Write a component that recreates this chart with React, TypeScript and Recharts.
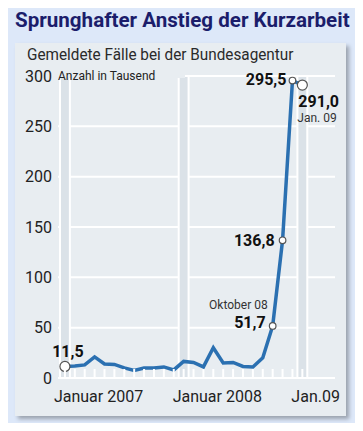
import { LineChart, Line, XAxis, YAxis, CartesianGrid, ReferenceArea, LabelList } from "recharts"

const months = [
  "Jan 07", "Feb 07", "Mär 07", "Apr 07", "Mai 07", "Jun 07", "Jul 07", "Aug 07", "Sep 07", "Okt 07", "Nov 07", "Dez 07",
  "Jan 08", "Feb 08", "Mär 08", "Apr 08", "Mai 08", "Jun 08", "Jul 08", "Aug 08", "Sep 08", "Okt 08", "Nov 08", "Dez 08",
  "Jan 09",
]
const cases = [
  11.5, 12, 13, 21, 14, 13.5, 10, 7.5, 10, 10, 11, 8,
  16.5, 15.5, 11, 30, 15, 15.5, 11.5, 11, 20, 51.7, 136.8, 295.5,
  291.0,
]
const yTicks = [0, 50, 100, 150, 200, 250, 300]
const yearLabels: Record<number, string> = { 0: "Januar 2007", 12: "Januar 2008", 24: "Jan.09" }
const valueLabels: Record<number, string> = { 0: "11,5", 21: "51,7", 22: "136,8", 23: "295,5", 24: "291,0" }
const noteLabels: Record<number, string> = { 21: "Oktober 08", 24: "Jan. 09" }

const data = cases.map((v, i) => ({ i, month: months[i], value: v }))
const janIdx = Object.keys(yearLabels).map(Number)

const font = "Roboto, 'Noto Sans', sans-serif"
const cardBg = "#e8edf1"

function MonthTick(props: any) {
  const { x, y, payload } = props
  const label = yearLabels[payload.value]
  return (
    <g>
      <line x1={x} x2={x} y1={y - 1} y2={y - 9} stroke="#fff" strokeWidth={2} />
      {label && (
        <text x={x - 11} y={y + 24} textAnchor="start" fontSize={16} fill="#222" fontFamily={font}>
          {label}
        </text>
      )}
    </g>
  )
}

function Marker(props: any) {
  const { cx, cy, index } = props
  if (valueLabels[index] === undefined) return <g key={index} />
  const r = index === 0 || index === 24 ? 5 : 3.3
  return <circle key={index} cx={cx} cy={cy} r={r} fill="#fff" stroke="#555" strokeWidth={1.2} />
}

function PointLabel(props: any) {
  const { x, y, index } = props
  const text = valueLabels[index]
  if (!text) return null
  let dx = -7, dy = 4, anchor = "end"
  let ndx = -5, ndy = -17, nAnchor = "end"
  if (index === 0) { dx = 3; dy = -9; anchor = "middle" }
  if (index === 21) { dx = -7; dy = 2 }
  if (index === 22) { dx = -8; dy = 6 }
  if (index === 23) { dx = -6; dy = 4 }
  if (index === 24) { dx = -4; dy = 22; anchor = "start"; ndx = -5; ndy = 37; nAnchor = "start" }
  const note = noteLabels[index]
  return (
    <g>
      <text x={x + dx} y={y + dy} textAnchor={anchor} fontSize={16} fontWeight={700} fill="#111" fontFamily={font}>
        {text}
      </text>
      {note && (
        <text x={x + ndx} y={y + ndy} textAnchor={nAnchor} fontSize={12} fill="#333" fontFamily={font}>
          {note}
        </text>
      )}
    </g>
  )
}

export default function App() {
  return (
    <div style={{ position: "relative", width: 363, height: 431, margin: -8, background: "#dde8f9", overflow: "hidden", fontFamily: font }}>
      <div
        style={{
          position: "absolute", left: 15, top: 43, width: 331, height: 373,
          background: cardBg, boxShadow: "3px 3px 4px rgba(0,0,0,0.3)",
        }}
      />
      <div
        style={{
          position: "absolute", left: 15, top: 8, fontSize: 21, fontWeight: 700, color: "#1b1d6b",
          whiteSpace: "nowrap", transformOrigin: "left top", transform: "scaleX(0.98)",
        }}
      >
        Sprunghafter Anstieg der Kurzarbeit
      </div>
      <div
        style={{
          position: "absolute", left: 27, top: 44, fontSize: 17, color: "#2a2a2a",
          whiteSpace: "nowrap", transformOrigin: "left top", transform: "scaleX(0.9)",
        }}
      >
        Gemeldete Fälle bei der Bundesagentur
      </div>
      <div style={{ position: "absolute", left: 0, top: 0 }}>
        <LineChart width={363} height={431} data={data} margin={{ top: 76, right: 28, left: 0, bottom: 23 }}>
          <CartesianGrid vertical={false} stroke="#fff" strokeWidth={2} />
          {janIdx.map((j) => (
            <ReferenceArea key={j} x1={j - 0.5} x2={j + 0.5} y1={0} y2={300} fill="#dbe2e8" fillOpacity={1} stroke="#fff" strokeWidth={2} />
          ))}
          <XAxis
            dataKey="i"
            type="number"
            domain={[-0.7, 27.3]}
            ticks={data.map((d) => d.i)}
            interval={0}
            height={30}
            axisLine={false}
            tickLine={false}
            tickSize={0}
            tickMargin={0}
            tick={<MonthTick />}
          />
          <YAxis
            domain={[0, 300]}
            ticks={yTicks}
            width={58}
            axisLine={false}
            tickLine={false}
            tickSize={0}
            tickMargin={6}
            tick={{ fontSize: 16, fill: "#222", fontFamily: font }}
          />
          <Line
            type="linear"
            dataKey="value"
            stroke="#2b70b1"
            strokeWidth={3.5}
            dot={<Marker />}
            activeDot={false}
            isAnimationActive={false}
          >
            <LabelList dataKey="value" content={<PointLabel />} />
          </Line>
        </LineChart>
      </div>
      <div
        style={{
          position: "absolute", left: 57, top: 66, width: 128, height: 11.5, background: cardBg,
        }}
      />
      <div style={{ position: "absolute", left: 58, top: 69, fontSize: 12, color: "#222", whiteSpace: "nowrap" }}>
        Anzahl in Tausend
      </div>
    </div>
  )
}
